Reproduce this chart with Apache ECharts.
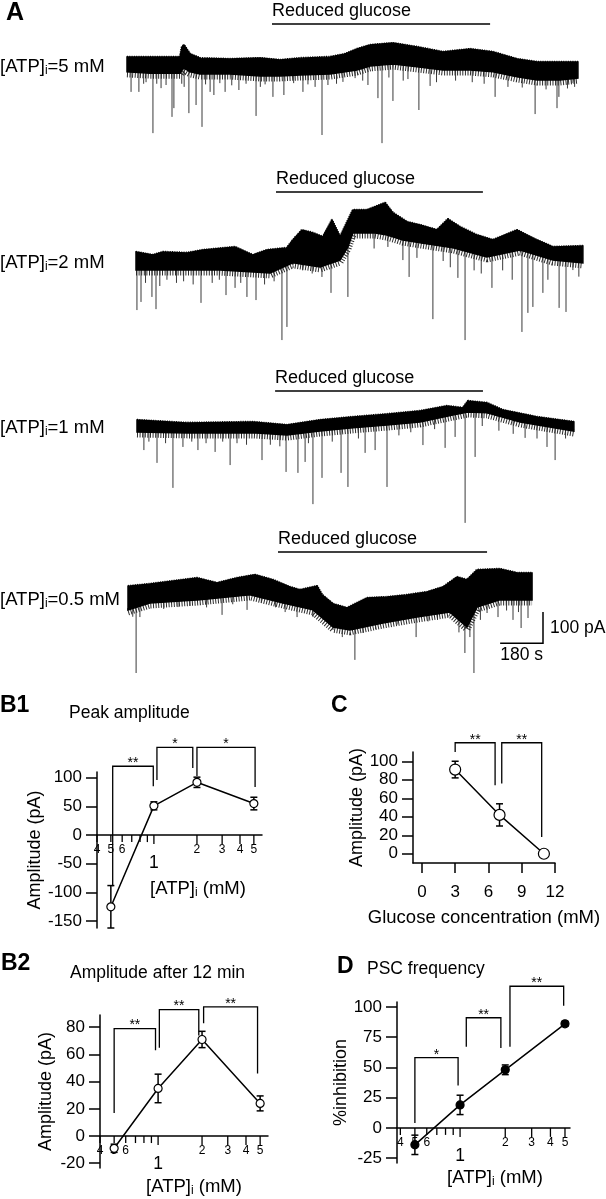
<!DOCTYPE html>
<html>
<head>
<meta charset="utf-8">
<script src="https://cdn.jsdelivr.net/npm/echarts@6.0.0/dist/echarts.min.js"></script>
<style>
  html, body { margin: 0; padding: 0; background: #fff; }
  #chart { width: 606px; height: 1199px; }
</style>
</head>
<body>
<div id="chart"></div>
<script>
// ---------- A: whole-cell traces (time in s, current in pA, 0 = start level) ----------
var trace1Top = [[0,26],[97,26],[223,26],[231,58],[239,64],[265,35],[307,22],[433,19],[559,22],[643,16],[727,22],[853,26],[916,35],[966,51],[1021,64],[1117,70],[1218,58],[1327,42],[1441,51],[1537,42],[1638,19],[1722,10],[1819,10],[1894,10]]
var trace1Bottom = [[0,-22],[97,-26],[223,-26],[231,-16],[239,-10],[265,-22],[307,-29],[433,-29],[559,-35],[643,-35],[727,-32],[853,-29],[916,-22],[966,-16],[1021,-3],[1117,3],[1218,-6],[1327,-16],[1441,-16],[1537,-22],[1638,-38],[1722,-48],[1819,-48],[1894,-42]]
var trace1Spikes = [[17,-86],[50,-86],[70,-60],[80,-55],[109,-218],[125,-60],[143,-74],[164,-64],[189,-166],[197,-138],[230,-60],[240,-70],[260,-154],[290,-128],[315,-198],[330,-62],[349,-86],[365,-96],[390,-58],[412,-86],[440,-65],[470,-80],[500,-60],[542,-163],[560,-70],[580,-62],[613,-102],[659,-96],[700,-58],[739,-86],[760,-62],[790,-70],[819,-224],[844,-64],[880,-60],[907,-54],[958,-42],[990,-50],[1012,-64],[1054,-106],[1071,-250],[1100,-40],[1117,-115],[1160,-50],[1180,-45],[1226,-144],[1273,-67],[1300,-55],[1380,-50],[1450,-55],[1500,-60],[1546,-102],[1600,-70],[1660,-72],[1714,-157],[1760,-78],[1806,-138],[1814,-102],[1850,-75],[1869,-58],[1880,-70]]

var trace2Top = [[0,29],[71,19],[113,29],[214,26],[281,35],[416,45],[491,19],[550,35],[634,42],[659,67],[697,99],[743,90],[785,77],[823,131],[857,77],[911,163],[970,163],[1046,186],[1079,154],[1138,125],[1193,115],[1264,99],[1310,134],[1361,109],[1432,83],[1499,67],[1600,99],[1684,67],[1751,45],[1877,48]]
var trace2Bottom = [[0,-29],[143,-29],[353,-29],[563,-38],[659,-6],[773,-19],[857,3],[890,45],[911,90],[1000,90],[1054,83],[1121,67],[1193,58],[1331,42],[1474,13],[1613,35],[1751,3],[1877,-6]]
var trace2Spikes = [[4,-157],[21,-131],[40,-70],[67,-115],[84,-154],[100,-80],[130,-60],[170,-70],[200,-65],[240,-75],[273,-134],[320,-70],[350,-60],[378,-109],[416,-86],[440,-70],[466,-115],[504,-125],[540,-75],[580,-65],[613,-253],[634,-211],[700,-30],[740,-40],[781,-51],[819,-102],[890,-115],[1000,40],[1058,45],[1121,3],[1147,-51],[1180,10],[1247,-186],[1290,0],[1320,-20],[1352,-54],[1382,-253],[1420,-30],[1450,-40],[1495,-86],[1540,-30],[1580,-60],[1621,-227],[1646,-166],[1667,-147],[1709,-102],[1730,-60],[1777,-150],[1806,-163],[1835,-29],[1860,-50]]

var trace3Top = [[0,19],[210,10],[487,13],[630,3],[769,19],[907,29],[1050,38],[1189,48],[1302,64],[1369,58],[1390,80],[1470,74],[1537,51],[1680,29],[1835,13]]
var trace3Bottom = [[0,-19],[210,-22],[487,-22],[630,-29],[769,-16],[907,-6],[1050,3],[1189,13],[1327,35],[1390,45],[1470,42],[1609,13],[1835,-16]]
var trace3Spikes = [[29,-77],[50,-50],[84,-118],[120,-55],[151,-198],[193,-67],[230,-50],[256,-77],[290,-55],[328,-83],[360,-50],[391,-125],[420,-55],[460,-60],[525,-109],[560,-60],[600,-65],[626,-147],[676,-150],[706,-115],[720,-55],[739,-250],[777,-166],[820,-50],[857,-150],[886,-195],[930,-40],[958,-86],[1000,-77],[1050,-195],[1100,-30],[1150,-20],[1201,-61],[1250,-10],[1294,-70],[1336,-35],[1378,-310],[1420,-99],[1450,0],[1520,-15],[1580,-25],[1630,-38],[1680,-40],[1722,-67],[1756,-109],[1800,-40]]

var trace4Top = [[0,38],[92,45],[290,64],[374,48],[458,64],[533,74],[609,58],[680,35],[722,26],[794,38],[815,10],[861,-19],[920,-32],[1004,0],[1088,3],[1172,10],[1256,19],[1323,35],[1382,67],[1424,58],[1466,90],[1562,93],[1634,80],[1697,80]]
var trace4Bottom = [[0,-38],[92,-16],[302,-6],[512,10],[651,-16],[777,-38],[861,-93],[932,-102],[1071,-80],[1214,-61],[1352,-45],[1424,-93],[1466,-29],[1562,-6],[1697,-6]]
var trace4Spikes = [[20,-60],[34,-240],[50,-61],[150,-35],[210,-29],[260,-25],[330,-30],[395,-54],[440,-20],[500,-38],[560,-15],[620,-30],[660,-45],[710,-61],[777,-61],[861,-102],[900,-125],[953,-198],[987,-112],[1040,-100],[1130,-85],[1210,-125],[1260,-75],[1300,-70],[1390,-110],[1415,-176],[1436,-125],[1453,-240],[1480,-70],[1508,-48],[1554,-61],[1590,-40],[1617,-70],[1640,-45],[1651,-96],[1680,-64]]

var atpLabels = ['5', '2', '1', '0.5']                       // [ATP]i of each trace, mM
var reducedGlucose = [[609,1525],[588,1457],[580,1453],[630,1508]]  // s
var scaleTime = 180   // s
var scaleCurrent = 100 // pA

// ---------- B1, B2, D: versus [ATP]i ----------
var atpConc = [0.5, 1, 2, 5]
var peakAmp = [-125, 51, 92, 55]
var peakErr = [37, 7, 9, 11]
var amp12 = [-9, 35, 71, 24]
var amp12Err = [3, 10.5, 6, 5.5]
var inhibition = [-14, 19, 48, 86]
var inhibitionErr = [8, 8, 4, 2]
var atpTicks = [0.4, 0.5, 0.6, 0.7, 0.8, 0.9, 1, 2, 3, 4, 5]
var atpTickLabels = ['4', '5', '6', '', '', '', '1', '2', '3', '4', '5']

// ---------- C: versus glucose ----------
var glucose = [3, 7, 11]
var glucoseAmp = [91, 42, 0]
var glucoseErr = [9, 12, 0]

// significance brackets: [x left, x right, top, left end, right end]
var b1Brackets = [[0.515, 0.99, 120, -89, 85], [1.05, 1.87, 153, 96, 117], [2.0, 5.1, 153, 103, 84]]
var b1Stars = ['**', '*', '*']
var cBrackets = [[3, 6.6, 120, 110, 74], [7.2, 10.8, 120, 76, 18]]
var cStars = ['**', '**']
var b2Brackets = [[0.5, 0.96, 79, 17, 63], [1.02, 1.9, 93, 65, 74], [2.05, 4.8, 95, 83, 46]]
var b2Stars = ['**', '**', '**']
var dBrackets = [[0.5, 0.97, 58, 4, 35], [1.1, 1.87, 91, 67, 66], [2.15, 4.9, 117, 67, 101]]
var dStars = ['*', '**', '**']

var FONT = '"Liberation Sans", Arial, Helvetica, sans-serif'
var S_PER_PX = 4.2    // 180 s bar is ~43 px
var PA_PER_PX = 3.2   // 100 pA bar is ~31 px

// layout of the four trace rows, in px
var traceBoxes = [
  { left: 127, base: 65, top: 0, bottom: 180, right: 592, barY: 24 },
  { left: 136, base: 261, top: 165, bottom: 350, right: 592, barY: 192 },
  { left: 137, base: 426, top: 360, bottom: 530, right: 592, barY: 391 },
  { left: 128, base: 598, top: 530, bottom: 690, right: 592, barY: 552 }
]
var traces = [
  { top: trace1Top, bottom: trace1Bottom, spikes: trace1Spikes },
  { top: trace2Top, bottom: trace2Bottom, spikes: trace2Spikes },
  { top: trace3Top, bottom: trace3Bottom, spikes: trace3Spikes },
  { top: trace4Top, bottom: trace4Bottom, spikes: trace4Spikes }
]

function levelAt(arr, t) {
  if (t <= arr[0][0]) return arr[0][1]
  for (var i = 1; i < arr.length; i++) {
    if (t <= arr[i][0]) {
      var a = arr[i - 1], b = arr[i]
      return a[1] + (b[1] - a[1]) * (t - a[0]) / (b[0] - a[0])
    }
  }
  return arr[arr.length - 1][1]
}

var grids = []
var xAxes = []
var yAxes = []
var series = []

traceBoxes.forEach(function(box, i) {
  var w = box.right - box.left
  var h = box.bottom - box.top
  grids.push({ left: box.left, top: box.top, width: w, height: h, containLabel: false, outerBoundsMode: 'none' })
  xAxes.push({ gridIndex: i, type: 'value', min: 0, max: w * S_PER_PX, show: false })
  yAxes.push({ gridIndex: i, type: 'value', min: -(box.bottom - box.base) * PA_PER_PX, max: (box.base - box.top) * PA_PER_PX, show: false })
  var tr = traces[i]
  // noise band, with a hatched stroke on the edges for the noise fringe
  series.push({
    type: 'custom', xAxisIndex: i, yAxisIndex: i, silent: true, z: 3,
    data: [[0, 0]],
    renderItem: function(params, api) {
      var top = tr.top.map(function(p) { return api.coord(p) })
      var bot = tr.bottom.map(function(p) { return api.coord(p) })
      var botLow = bot.map(function(p) { return [p[0], p[1] + 2] })
      return { type: 'group', children: [
        { type: 'polyline', shape: { points: botLow }, style: { stroke: '#2a2a2a', lineWidth: 7, lineDash: [1, 1.6], lineCap: 'butt', lineJoin: 'bevel', fill: null } },
        { type: 'polygon', shape: { points: top.concat(bot.slice().reverse()) }, style: { fill: '#000', stroke: '#000', lineWidth: 1.5 } },
        { type: 'polyline', shape: { points: top }, style: { stroke: '#000', lineWidth: 2.5, lineDash: [1, 1.3], lineCap: 'butt', lineJoin: 'bevel', fill: null } }
      ] }
    }
  })
  // PSCs
  series.push({
    type: 'custom', xAxisIndex: i, yAxisIndex: i, silent: true, z: 2,
    data: tr.spikes,
    renderItem: function(params, api) {
      var t = api.value(0)
      var a = api.coord([t, levelAt(tr.bottom, t) + 6])
      var b = api.coord([t, api.value(1)])
      return { type: 'line', shape: { x1: a[0], y1: a[1], x2: b[0], y2: b[1] }, style: { stroke: '#3a3a3a', lineWidth: 1 } }
    }
  })
  // reduced glucose bar
  series.push({
    type: 'custom', xAxisIndex: i, yAxisIndex: i, silent: true,
    data: [reducedGlucose[i]],
    renderItem: function(params, api) {
      var x1 = api.coord([api.value(0), 0])[0]
      var x2 = api.coord([api.value(1), 0])[0]
      return { type: 'group', children: [
        { type: 'line', shape: { x1: x1, y1: box.barY, x2: x2, y2: box.barY }, style: { stroke: '#000', lineWidth: 1.5 } },
        { type: 'text', x: x1, y: box.barY - 13, style: { text: 'Reduced glucose', fill: '#000', fontSize: 18, fontFamily: FONT, align: 'left', verticalAlign: 'middle', textAlign: 'left', textVerticalAlign: 'middle' } }
      ] }
    }
  })
})

// scale bars on the last trace
series.push({
  type: 'custom', xAxisIndex: 3, yAxisIndex: 3, silent: true,
  data: [[1743, -145]],
  renderItem: function(params, api) {
    var t = api.value(0), a = api.value(1)
    var p0 = api.coord([t - scaleTime, a]), p1 = api.coord([t, a]), p2 = api.coord([t, a + scaleCurrent])
    return { type: 'group', children: [
      { type: 'polyline', shape: { points: [p0, p1, p2] }, style: { stroke: '#000', lineWidth: 1.5, fill: null } },
      { type: 'text', x: p1[0] + 7, y: (p1[1] + p2[1]) / 2, style: { text: scaleCurrent + ' pA', fill: '#000', fontSize: 17.5, fontFamily: FONT, align: 'left', verticalAlign: 'middle', textAlign: 'left', textVerticalAlign: 'middle' } },
      { type: 'text', x: (p0[0] + p1[0]) / 2, y: p1[1] + 3, style: { text: scaleTime + ' s', fill: '#000', fontSize: 17.5, fontFamily: FONT, align: 'center', verticalAlign: 'top', textAlign: 'center', textVerticalAlign: 'top' } }
    ] }
  }
})

// ---------- summary panels ----------
var axisLine = { color: '#000', width: 1.5 }
function yAxisFor(gi, min, max, ticks, name, gap) {
  return {
    gridIndex: gi, type: 'value', min: min, max: max,
    axisLine: { show: true, onZero: false, lineStyle: axisLine },
    axisTick: { show: true, length: 11, customValues: ticks, lineStyle: axisLine },
    axisLabel: { customValues: ticks, margin: 15, fontSize: 17, color: '#000', fontFamily: FONT },
    splitLine: { show: false },
    name: name, nameLocation: 'middle', nameGap: gap,
    nameTextStyle: { fontSize: 18, color: '#000', fontFamily: FONT }
  }
}
function logXAxis(gi, min, max) {
  return {
    gridIndex: gi, type: 'log', logBase: 10, min: min, max: max,
    axisLine: { show: true, onZero: true, lineStyle: axisLine },
    axisTick: { show: false }, axisLabel: { show: false },
    splitLine: { show: false }, minorTick: { show: false }, minorSplitLine: { show: false }
  }
}

var panels = [
  { grid: { left: 97, top: 772, width: 165, height: 156 } },
  { grid: { left: 413, top: 752, width: 142, height: 111 } },
  { grid: { left: 100, top: 1015, width: 168, height: 153 } },
  { grid: { left: 397, top: 1002, width: 173, height: 161 } }
]
panels.forEach(function(p) {
  grids.push(Object.assign({ containLabel: false, outerBoundsMode: 'none' }, p.grid))
})

// B1 = 4, C = 5, B2 = 6, D = 7
xAxes.push(logXAxis(4, 0.4, 5.7))
yAxes.push(yAxisFor(4, -162, 110, [-150, -100, -50, 0, 50, 100], 'Amplitude (pA)', 52))
xAxes.push({
  gridIndex: 5, type: 'value', min: -0.8, max: 12,
  axisLine: { show: true, onZero: false, lineStyle: axisLine },
  axisTick: { show: true, length: 10, customValues: [0, 3, 6, 9, 12], lineStyle: axisLine },
  axisLabel: { customValues: [0, 3, 6, 9, 12], margin: 21, fontSize: 17, color: '#000', fontFamily: FONT },
  splitLine: { show: false },
  name: 'Glucose concentration (mM)', nameLocation: 'middle', nameGap: 45,
  nameTextStyle: { fontSize: 18.5, color: '#000', fontFamily: FONT }
})
yAxes.push(yAxisFor(5, -10, 110, [0, 20, 40, 60, 80, 100], 'Amplitude (pA)', 45))
xAxes.push(logXAxis(6, 0.4, 5.66))
yAxes.push(yAxisFor(6, -23.5, 89, [-20, 0, 20, 40, 60, 80], 'Amplitude (pA)', 45))
xAxes.push(logXAxis(7, 0.38, 5.4))
yAxes.push(yAxisFor(7, -29, 104, [-25, 0, 25, 50, 75, 100], '%inhibition', 40))

function atpTickSeries(ax) {
  return {
    type: 'custom', xAxisIndex: ax, yAxisIndex: ax, silent: true, z: 4,
    data: atpTicks.map(function(v, i) { return [v, 0, i] }),
    renderItem: function(params, api) {
      var v = api.value(0), lab = atpTickLabels[api.value(2)]
      var p = api.coord([v, 0])
      var kids = [{ type: 'line', shape: { x1: p[0], y1: p[1], x2: p[0], y2: p[1] + (v >= 1 ? 9 : 7) }, style: { stroke: '#000', lineWidth: 1.3 } }]
      if (lab) {
        var big = v === 1
        kids.push({ type: 'text', x: p[0], y: p[1] + (big ? 28 : 15), style: { text: lab, fill: '#000', fontSize: big ? 17.5 : 12, fontFamily: FONT, align: 'center', verticalAlign: 'middle', textAlign: 'center', textVerticalAlign: 'middle' } })
      }
      return { type: 'group', children: kids }
    }
  }
}

function errorSeries(ax, xs, ys, es) {
  return {
    type: 'custom', xAxisIndex: ax, yAxisIndex: ax, silent: true, z: 4,
    data: xs.map(function(x, i) { return [x, ys[i], es[i]] }),
    renderItem: function(params, api) {
      var x = api.value(0), y = api.value(1), e = api.value(2)
      if (!e) return null
      var a = api.coord([x, y + e]), b = api.coord([x, y - e])
      var st = { stroke: '#000', lineWidth: 1.5 }
      return { type: 'group', children: [
        { type: 'line', shape: { x1: a[0], y1: a[1], x2: b[0], y2: b[1] }, style: st },
        { type: 'line', shape: { x1: a[0] - 3.5, y1: a[1], x2: a[0] + 3.5, y2: a[1] }, style: st },
        { type: 'line', shape: { x1: b[0] - 3.5, y1: b[1], x2: b[0] + 3.5, y2: b[1] }, style: st }
      ] }
    }
  }
}

function lineSeries(ax, xs, ys, filled, size) {
  return {
    type: 'line', xAxisIndex: ax, yAxisIndex: ax, silent: true, z: 5,
    data: xs.map(function(x, i) { return [x, ys[i]] }),
    symbol: 'circle', symbolSize: size, showAllSymbol: true,
    lineStyle: { color: '#000', width: 1.5 },
    itemStyle: { color: filled ? '#000' : '#fff', borderColor: '#000', borderWidth: 1.2 }
  }
}

function bracketSeries(ax, br, stars) {
  return {
    type: 'custom', xAxisIndex: ax, yAxisIndex: ax, silent: true, z: 4,
    data: br.map(function(b, i) { return [b[0], b[2], i] }),
    renderItem: function(params, api) {
      var b = br[api.value(2)]
      var l = api.coord([b[0], b[3]]), p1 = api.coord([b[0], b[2]])
      var p2 = api.coord([b[1], b[2]]), r = api.coord([b[1], b[4]])
      return { type: 'group', children: [
        { type: 'polyline', shape: { points: [l, p1, p2, r] }, style: { stroke: '#000', lineWidth: 1.3, fill: null } },
        { type: 'text', x: (p1[0] + p2[0]) / 2, y: p1[1] - 3, style: { text: stars[api.value(2)], fill: '#000', fontSize: 14, fontFamily: FONT, align: 'center', verticalAlign: 'middle', textAlign: 'center', textVerticalAlign: 'middle' } }
      ] }
    }
  }
}

series.push(atpTickSeries(4), errorSeries(4, atpConc, peakAmp, peakErr), lineSeries(4, atpConc, peakAmp, false, 8), bracketSeries(4, b1Brackets, b1Stars))
series.push(errorSeries(5, glucose, glucoseAmp, glucoseErr), lineSeries(5, glucose, glucoseAmp, false, 11), bracketSeries(5, cBrackets, cStars))
series.push(atpTickSeries(6), errorSeries(6, atpConc, amp12, amp12Err), lineSeries(6, atpConc, amp12, false, 8), bracketSeries(6, b2Brackets, b2Stars))
series.push(atpTickSeries(7), errorSeries(7, atpConc, inhibition, inhibitionErr), lineSeries(7, atpConc, inhibition, true, 8), bracketSeries(7, dBrackets, dStars))

// ---------- static texts ----------
function richFor(size) {
  return {
    a: { fontSize: size, fontFamily: FONT, fill: '#000' },
    s: { fontSize: Math.round(size * 0.65), fontFamily: FONT, fill: '#000', verticalAlign: 'bottom' }
  }
}
function txt(x, y, text, size, bold, align) {
  return { type: 'text', x: x, y: y, silent: true,
    style: { text: text, fill: '#000', fontSize: size, fontWeight: bold ? 'bold' : 'normal', fontFamily: FONT,
      align: align || 'left', verticalAlign: 'middle', textAlign: align || 'left', textVerticalAlign: 'middle' } }
}
function subTxt(x, y, text, size, align) {
  return { type: 'text', x: x, y: y, silent: true,
    style: { text: text, rich: richFor(size), align: align || 'left', verticalAlign: 'middle', textAlign: align || 'left', textVerticalAlign: 'middle' } }
}
var graphics = [
  txt(6, 13, 'A', 25, true),
  txt(0, 706, 'B1', 23, true), txt(69, 713, 'Peak amplitude', 17.5),
  txt(331, 706, 'C', 23, true),
  txt(1, 964, 'B2', 23, true), txt(70, 973, 'Amplitude after 12 min', 17.5),
  txt(337, 967, 'D', 23, true), txt(367, 969, 'PSC frequency', 17.5),
  subTxt(198, 889, '{a|[ATP]}{s|i}{a| (mM)}', 18.5, 'center'),
  subTxt(194, 1187, '{a|[ATP]}{s|i}{a| (mM)}', 18.5, 'center'),
  subTxt(495, 1178, '{a|[ATP]}{s|i}{a| (mM)}', 18.5, 'center')
]
traceBoxes.forEach(function(box, i) {
  graphics.push(subTxt(0, box.base + 2, '{a|[ATP]}{s|i}{a|=' + atpLabels[i] + ' mM}', 18.5))
})

var chart = echarts.init(document.getElementById('chart'))
chart.setOption({
  animation: false,
  backgroundColor: '#fff',
  grid: grids,
  xAxis: xAxes,
  yAxis: yAxes,
  series: series,
  graphic: graphics
})
</script>
</body>
</html>
